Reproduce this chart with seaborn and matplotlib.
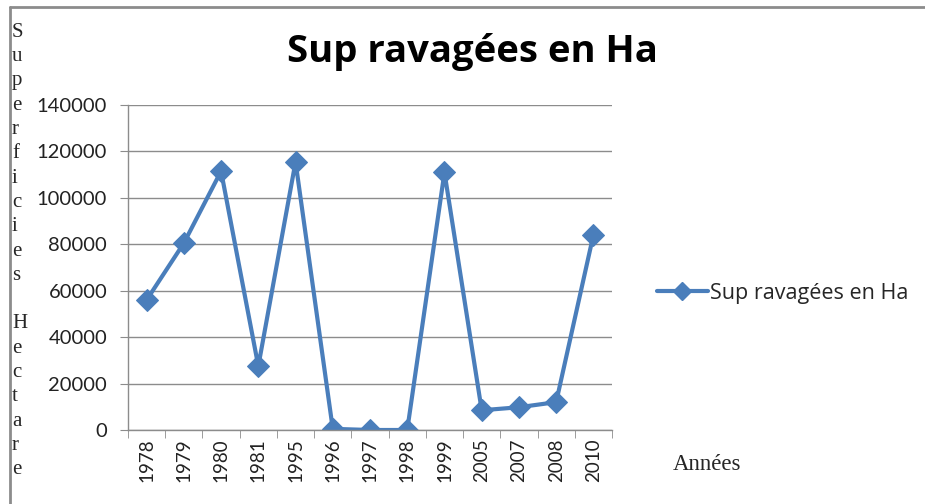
import matplotlib
matplotlib.use("Agg")
import matplotlib.pyplot as plt
import seaborn as sns
import pandas as pd
from matplotlib.lines import Line2D

annees = ["1978", "1979", "1980", "1981", "1995", "1996", "1997",
          "1998", "1999", "2005", "2007", "2008", "2010"]
superficies = [56000, 80500, 111500, 27500, 115500, 500, 0,
               0, 111000, 8500, 9800, 12000, 84000]
y_ticks = [0, 20000, 40000, 60000, 80000, 100000, 120000, 140000]
serie = "Sup ravagées en Ha"
ylabel_txt = "Superficies Hectare"

df = pd.DataFrame({"Annee": annees, "Sup": superficies})

sns.set_style("white")
plt.rcParams['font.family'] = ['Lato', 'DejaVu Sans']

bleu = '#4A7EBB'
gris = '#8C8C8C'

fig = plt.figure(figsize=(9.25, 5.04), dpi=100)
ax = fig.add_axes([128/925, 1 - 430/504, (612-128)/925, (430-105)/504])

sns.lineplot(data=df, x="Annee", y="Sup", ax=ax, color=bleu, linewidth=3,
             marker="D", markersize=11, markeredgecolor=bleu, sort=False,
             label=serie)

ax.set_xlim(-0.5, len(annees) - 0.5)
ax.set_ylim(0, 140000)
ax.set_yticks(y_ticks)
ax.set_yticklabels([str(v) for v in y_ticks], fontsize=14.5, color='#222222')
ax.yaxis.grid(True, color=gris, linewidth=1)
ax.xaxis.grid(False)
ax.set_axisbelow(True)

ax.set_xticks(range(len(annees)))
ax.set_xticklabels(annees, rotation=90, fontsize=13.5, color='#222222')
ax.set_xticks([i - 0.5 for i in range(len(annees) + 1)], minor=True)
ax.tick_params(axis='x', which='major', length=0, pad=6)
ax.tick_params(axis='x', which='minor', length=6, color=gris, direction='out', bottom=True)
ax.tick_params(axis='y', length=6, color=gris, direction='out', left=True, pad=9)

for s in ['top', 'right']:
    ax.spines[s].set_visible(False)
for s in ['left', 'bottom']:
    ax.spines[s].set_color(gris)
    ax.spines[s].set_linewidth(1)

ax.set_xlabel("")
ax.set_ylabel("")

# legende
ax.legend().remove()
handle = Line2D([], [], color=bleu, linewidth=3, marker="D", markersize=9)
fig.legend([handle], [serie], loc='center left', bbox_to_anchor=(648/925, 1 - 293/504),
           frameon=False, handlelength=2.4, handletextpad=0.1,
           borderaxespad=0, prop={'family': 'Open Sans', 'size': 15.5})

# titre
fig.text(472/925, 1 - 52/504, serie, ha='center', va='center',
         fontsize=27.5, fontweight='bold', family='Open Sans', color='black')

# etiquette verticale lettre par lettre
fig.text(12/925, 1 - 251/504, "\n".join(ylabel_txt), ha='left', va='center',
         fontsize=15, family='Liberation Serif', linespacing=1.38)

fig.text(673/925, 1 - 465/504, "Années", ha='left', va='center',
         fontsize=16.5, family='Liberation Serif')

# cadre
fig.add_artist(Line2D([10/925, 1], [1 - 7/504, 1 - 7/504], color=gris, linewidth=2,
                      transform=fig.transFigure))
fig.add_artist(Line2D([10/925, 10/925], [0, 1 - 7/504], color=gris, linewidth=2,
                      transform=fig.transFigure))

fig.savefig("out.png", dpi=100)
